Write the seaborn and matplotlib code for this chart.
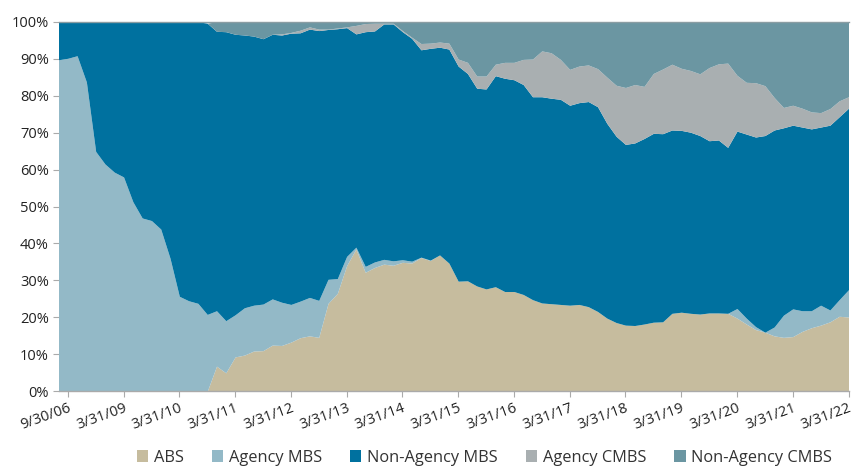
import numpy as np
import matplotlib
matplotlib.use("Agg")
import matplotlib.pyplot as plt
import seaborn as sns

# period index of each observation (category positions on the x axis)
periods = list(range(0, 171, 2))

tick_periods = [2, 14, 26, 38, 50, 62, 74, 86, 98, 110, 122, 134, 146, 158, 170]
tick_labels = ["9/30/06", "3/31/09", "3/31/10", "3/31/11", "3/31/12", "3/31/13",
               "3/31/14", "3/31/15", "3/31/16", "3/31/17", "3/31/18", "3/31/19",
               "3/31/20", "3/31/21", "3/31/22"]

series_names = ["ABS", "Agency MBS", "Non-Agency MBS", "Agency CMBS", "Non-Agency CMBS"]

abs_share = [0, 0, 0, 0, 0, 0, 0, 0, 0, 0, 0, 0, 0, 0, 0, 0, 0,
             6.8, 5.0, 9.3, 9.8, 10.9, 11.0, 12.5, 12.4, 13.3, 14.5, 15.0, 14.6,
             23.8, 26.5, 34.0, 38.5, 32.2, 33.5, 34.4, 34.1, 34.9, 34.7, 36.2, 35.4,
             36.9, 34.7, 29.8, 29.9, 28.5, 27.7, 28.3, 27.0, 27.0, 26.2, 24.8, 23.9,
             23.7, 23.5, 23.3, 23.5, 22.9, 21.6, 19.8, 18.6, 17.9, 17.8, 18.2, 18.7,
             18.8, 21.1, 21.4, 21.1, 20.9, 21.2, 21.2, 21.1, 19.8, 18.2, 16.7, 16.0,
             15.0, 14.6, 14.8, 16.2, 17.2, 17.9, 18.8, 20.3, 20.1]

agency_mbs = [89.7, 90.1, 90.8, 83.7, 64.9, 61.5, 59.3, 58.0, 51.3, 46.9, 46.2, 43.9,
              36.0, 25.7, 24.5, 23.8, 20.8, 15.0, 14.1, 11.4, 12.8, 12.4, 12.6, 12.5,
              11.7, 10.2, 9.9, 10.4, 10.0, 6.5, 4.0, 2.5, 0.5, 1.6, 1.5, 1.3, 1.2,
              0.7, 0.5, 0.1, 0.1, 0,
              0, 0, 0, 0, 0, 0, 0, 0, 0, 0, 0, 0, 0, 0, 0, 0, 0, 0, 0, 0, 0, 0, 0,
              0, 0, 0, 0, 0, 0, 0, 0,
              2.6, 1.6, 0.8, 0, 2.4, 6.0, 7.5, 5.6, 4.6, 5.4, 3.2, 4.5, 7.4]

non_agency_mbs = [10.3, 9.9, 9.2, 16.3, 35.1, 38.5, 40.7, 42.0, 48.7, 53.1, 53.8, 56.1,
                  64.0, 74.3, 75.5, 76.2, 78.8, 75.6, 78.2, 75.9, 73.8, 72.8, 71.8,
                  71.6, 72.3, 73.4, 72.6, 72.6, 73.0, 67.6, 67.6, 61.9, 57.7, 63.5,
                  62.5, 63.7, 64.1, 61.7, 60.3, 56.1, 57.3, 56.2, 57.9, 58.2, 56.1,
                  53.5, 54.1, 57.1, 57.7, 57.3, 56.8, 54.9, 55.8, 55.6, 55.5, 54.1,
                  54.6, 55.5, 55.4, 52.7, 50.4, 48.9, 49.4, 50.2, 51.1, 50.9, 49.6,
                  49.2, 49.0, 48.3, 46.6, 46.8, 44.9, 48.0, 49.8, 51.3, 53.2, 53.3,
                  50.7, 49.7, 49.7, 49.2, 48.2, 50.0, 49.5, 49.1]

agency_cmbs = [0, 0, 0, 0, 0, 0, 0, 0, 0, 0, 0, 0, 0, 0, 0, 0, 0, 0, 0, 0, 0, 0, 0, 0,
               0.3, 0.2, 0.7, 0.6, 0.4, 0.1, 0.2, 0.2, 2.3, 2.2, 2.1, 0.2, 0.2, 0.3,
               0.3, 1.7, 1.4, 1.4, 1.6, 1.9, 3.0, 3.3, 3.5, 3.1, 4.3, 4.7, 6.8, 10.2,
               12.4, 12.3, 10.8, 9.7, 9.9, 9.9, 10.3, 12.5, 13.8, 15.4, 15.8, 14.1,
               16.2, 17.5, 17.8, 16.8, 16.7, 16.7, 19.8, 20.6, 22.8, 15.1, 14.0,
               14.7, 13.5, 8.8, 5.5, 5.4, 5.1, 4.6, 3.9, 4.5, 4.3, 3.1]

non_agency_cmbs = [0, 0, 0, 0, 0, 0, 0, 0, 0, 0, 0, 0, 0, 0, 0, 0, 0,
                   2.6, 2.7, 3.4, 3.6, 3.9, 4.6, 3.4, 3.3, 2.9, 2.3, 1.4, 2.0, 2.0,
                   1.7, 1.4, 1.0, 0.5, 0.4, 0.4, 0.4, 2.4, 4.2, 5.9, 5.8, 5.5, 5.8,
                   10.1, 11.0, 14.7, 14.7, 11.5, 11.0, 11.0, 10.2, 10.1, 7.9, 8.4,
                   10.2, 12.9, 12.0, 11.7, 12.7, 15.0, 17.2, 17.8, 17.0, 17.5, 14.0,
                   12.8, 11.5, 12.6, 13.2, 14.1, 12.4, 11.4, 11.2, 14.5, 16.4, 16.5,
                   17.3, 20.5, 23.2, 22.6, 23.4, 24.4, 24.6, 23.5, 21.4, 20.3]

colors = ["#c6bc9e", "#93b9c7", "#00719f", "#a9afb1", "#6b96a2"]

sns.set_theme(style="white")
plt.rcParams["font.family"] = ["Open Sans", "DejaVu Sans"]

fig = plt.figure(figsize=(8.57, 4.66), dpi=100)
ax = fig.add_axes([58.5 / 857, 1 - 391.3 / 466, (848.5 - 58.5) / 857, (391.3 - 21.7) / 466])

ax.stackplot(periods, abs_share, agency_mbs, non_agency_mbs, agency_cmbs, non_agency_cmbs,
             labels=series_names, colors=colors, linewidth=0)

ax.set_xlim(0, 170)
ax.set_ylim(0, 100)
ax.set_yticks(range(0, 101, 10))
ax.set_yticklabels([f"{v}%" for v in range(0, 101, 10)], fontsize=10.5, color="#222222")
ax.set_xticks(tick_periods)
ax.set_xticklabels(tick_labels, rotation=20, ha="right", rotation_mode="anchor",
                   fontsize=10.5, color="#222222")
ax.tick_params(axis="both", which="both", length=4, width=0.8, color="#aaaaaa",
               direction="out", bottom=True, left=True)
ax.tick_params(axis="x", pad=3)
ax.tick_params(axis="y", pad=3)

sns.despine(ax=ax, top=False, right=True, left=True)
ax.spines["bottom"].set_color("#aaaaaa")
ax.spines["bottom"].set_linewidth(1.0)
ax.spines["top"].set_color("#8a9da3")
ax.spines["top"].set_linewidth(1.0)
ax.grid(False)

handles, labels = ax.get_legend_handles_labels()
fig.legend(handles, labels, loc="center", bbox_to_anchor=(484.5 / 857, 1 - 457.7 / 466),
           ncol=5, frameon=False, fontsize=11.8, handlelength=0.7, handleheight=0.7,
           handletextpad=0.35, columnspacing=1.7, borderaxespad=0, labelcolor="#333333")

fig.savefig("out.png", dpi=100)
